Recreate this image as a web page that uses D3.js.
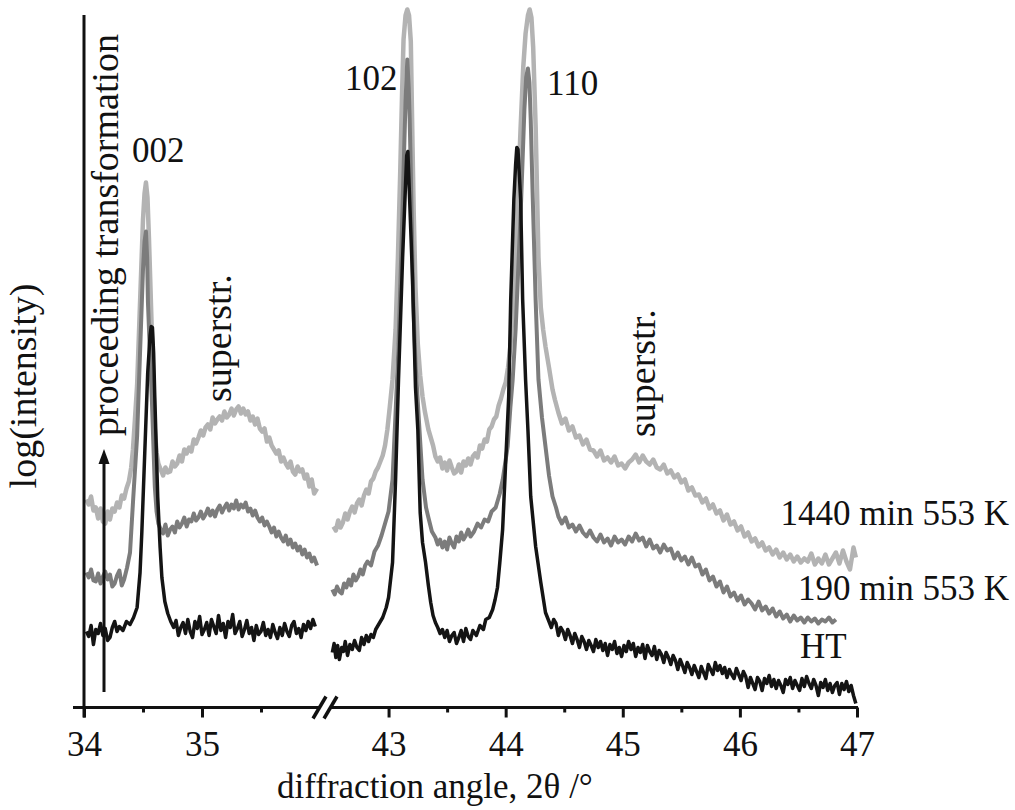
<!DOCTYPE html>
<html>
<head>
<meta charset="utf-8">
<script src="https://cdn.jsdelivr.net/npm/d3@7"></script>
<style>
  body { margin: 0; background: #fff; }
  svg text { font-family: "Liberation Serif", "Times New Roman", serif; fill: #111; }
</style>
</head>
<body>
<svg id="chart" width="1015" height="810"></svg>
<script>
// 2theta (deg) vs log(intensity), arbitrary units
const seriesNames = ['1440 min 553 K', '190 min 553 K', 'HT']
const seriesColors = ['#b3b3b3', '#7c7c7c', '#141414']

const leftTicks = [34, 35]
const leftMinor = [34.5, 35.5]
const rightTicks = [43, 44, 45, 46, 47]
const rightMinor = [43.5, 44.5, 45.5, 46.5]

const peakLabels = ['002', '102', '110']

// ---- 1440 min 553 K ----
const long_left = [[34.02,208],[34.04,203],[34.06,211],[34.08,197],[34.10,200],[34.12,189],[34.14,199],[34.16,186],[34.18,184],[34.20,196],[34.22,188],[34.24,199],[34.26,196],[34.28,205],[34.30,200],[34.32,212],[34.34,209],[34.36,219],[34.38,226],[34.40,240],[34.415,258],[34.43,285],[34.45,322],[34.475,405],[34.50,488],[34.513,514],[34.525,525],[34.538,510],[34.55,471],[34.576,371],[34.60,278],[34.615,255],[34.63,244],[34.65,238],[34.67,232],[34.69,240],[34.71,235],[34.73,236],[34.75,246],[34.77,241],[34.79,244],[34.81,252],[34.83,246],[34.85,258],[34.87,254],[34.89,260],[34.91,256],[34.93,268],[34.95,264],[34.97,270],[34.99,277],[35.01,272],[35.03,280],[35.05,283],[35.07,278],[35.09,290],[35.11,284],[35.13,288],[35.15,291],[35.17,287],[35.19,296],[35.21,290],[35.23,293],[35.25,299],[35.27,292],[35.29,298],[35.31,301],[35.33,294],[35.35,299],[35.37,293],[35.39,296],[35.41,287],[35.43,291],[35.45,283],[35.47,289],[35.49,279],[35.51,276],[35.53,279],[35.55,266],[35.57,270],[35.59,262],[35.61,258],[35.63,254],[35.65,257],[35.67,246],[35.69,250],[35.71,244],[35.73,240],[35.75,246],[35.77,236],[35.79,233],[35.81,241],[35.83,236],[35.85,238],[35.87,229],[35.89,233],[35.91,221],[35.93,228],[35.95,214],[35.975,219]]

const long_right = [[42.53,181],[42.55,177],[42.57,187],[42.59,180],[42.61,185],[42.63,194],[42.65,188],[42.67,196],[42.69,201],[42.71,195],[42.73,204],[42.75,208],[42.77,202],[42.79,212],[42.81,218],[42.83,214],[42.85,226],[42.87,229],[42.89,236],[42.91,240],[42.93,246],[42.95,252],[42.97,262],[42.99,278],[43.01,300],[43.034,328],[43.06,378],[43.08,450],[43.10,537],[43.115,612],[43.128,668],[43.145,692],[43.16,698],[43.175,692],[43.19,666],[43.205,560],[43.215,494],[43.23,420],[43.25,363],[43.27,332],[43.29,311],[43.31,296],[43.34,278],[43.36,270],[43.38,262],[43.40,251],[43.42,246],[43.44,250],[43.46,239],[43.48,245],[43.50,237],[43.52,247],[43.54,240],[43.56,234],[43.58,236],[43.60,243],[43.62,235],[43.64,246],[43.66,242],[43.68,249],[43.70,243],[43.72,251],[43.74,254],[43.76,250],[43.78,262],[43.80,259],[43.82,268],[43.84,266],[43.86,278],[43.88,281],[43.90,288],[43.92,291],[43.94,302],[43.96,309],[43.98,318],[44.00,325],[44.02,340],[44.04,361],[44.06,395],[44.08,440],[44.10,500],[44.128,581],[44.15,640],[44.17,674],[44.19,692],[44.205,698],[44.22,690],[44.235,660],[44.256,581],[44.28,450],[44.30,400],[44.32,378],[44.34,361],[44.37,340],[44.40,318],[44.42,308],[44.45,295],[44.48,284],[44.51,289],[44.54,277],[44.57,281],[44.60,270],[44.63,272],[44.66,263],[44.69,268],[44.72,258],[44.75,257],[44.78,251],[44.81,257],[44.84,247],[44.87,250],[44.90,245],[44.93,251],[44.96,242],[44.99,244],[45.02,239],[45.05,245],[45.08,248],[45.11,253],[45.14,245],[45.17,252],[45.20,246],[45.23,243],[45.26,248],[45.29,240],[45.32,238],[45.35,243],[45.38,234],[45.41,237],[45.44,230],[45.47,233],[45.50,225],[45.53,228],[45.56,217],[45.59,220],[45.62,212],[45.65,213],[45.68,205],[45.71,209],[45.74,199],[45.77,203],[45.80,194],[45.83,197],[45.86,187],[45.89,193],[45.92,183],[45.95,186],[45.98,177],[46.01,181],[46.04,171],[46.07,175],[46.10,166],[46.13,169],[46.16,161],[46.19,165],[46.22,157],[46.25,160],[46.28,153],[46.31,158],[46.34,150],[46.37,155],[46.40,148],[46.43,153],[46.46,146],[46.49,151],[46.52,145],[46.55,149],[46.58,146],[46.61,154],[46.64,143],[46.67,149],[46.70,144],[46.73,153],[46.76,143],[46.79,149],[46.82,155],[46.85,144],[46.88,157],[46.91,146],[46.94,138],[46.97,160],[46.99,150]]

// ---- 190 min 553 K ----
const mid_left = [[34.02,135],[34.04,130],[34.06,138],[34.08,127],[34.10,126],[34.12,134],[34.14,124],[34.16,131],[34.18,136],[34.20,128],[34.22,133],[34.24,121],[34.26,124],[34.28,132],[34.30,137],[34.32,122],[34.34,128],[34.365,140],[34.39,155],[34.415,205],[34.45,271],[34.475,355],[34.50,438],[34.513,466],[34.525,476],[34.535,450],[34.542,405],[34.56,350],[34.576,305],[34.60,221],[34.615,196],[34.63,184],[34.65,178],[34.67,174],[34.69,183],[34.71,172],[34.73,178],[34.75,181],[34.77,175],[34.79,186],[34.81,180],[34.83,184],[34.85,190],[34.87,181],[34.89,188],[34.91,186],[34.93,194],[34.95,187],[34.97,190],[34.99,196],[35.01,189],[35.03,193],[35.05,199],[35.07,192],[35.09,197],[35.11,191],[35.13,198],[35.15,202],[35.17,195],[35.19,200],[35.21,204],[35.23,197],[35.25,203],[35.27,199],[35.29,207],[35.31,198],[35.33,203],[35.35,200],[35.37,205],[35.39,196],[35.41,199],[35.43,192],[35.45,197],[35.47,190],[35.49,186],[35.51,190],[35.53,182],[35.55,186],[35.57,181],[35.59,175],[35.61,180],[35.63,171],[35.65,176],[35.67,170],[35.69,166],[35.71,172],[35.73,163],[35.75,168],[35.77,160],[35.79,164],[35.81,157],[35.83,161],[35.85,153],[35.87,158],[35.89,150],[35.91,154],[35.93,146],[35.95,150],[35.975,142]]

const mid_right = [[42.52,118],[42.54,113],[42.56,121],[42.58,116],[42.60,114],[42.62,124],[42.64,120],[42.66,128],[42.68,122],[42.70,133],[42.72,127],[42.74,131],[42.76,138],[42.78,133],[42.80,142],[42.82,146],[42.85,142],[42.88,156],[42.91,162],[42.94,172],[42.97,184],[43.00,196],[43.034,228],[43.06,295],[43.085,361],[43.11,460],[43.128,537],[43.145,606],[43.16,648],[43.172,620],[43.18,590],[43.19,537],[43.21,407],[43.23,345],[43.255,295],[43.29,228],[43.32,200],[43.34,190],[43.37,176],[43.40,170],[43.42,163],[43.44,168],[43.46,160],[43.48,166],[43.50,158],[43.52,170],[43.54,164],[43.56,160],[43.58,171],[43.60,166],[43.62,175],[43.64,168],[43.66,172],[43.68,178],[43.70,171],[43.73,176],[43.76,184],[43.79,180],[43.82,188],[43.85,186],[43.88,196],[43.915,200],[43.95,214],[43.975,228],[44.017,261],[44.04,300],[44.06,328],[44.085,378],[44.128,494],[44.16,598],[44.175,630],[44.19,639],[44.203,625],[44.214,588],[44.23,515],[44.256,407],[44.28,328],[44.31,290],[44.34,261],[44.37,232],[44.40,211],[44.43,200],[44.45,191],[44.48,184],[44.51,190],[44.54,180],[44.57,183],[44.60,176],[44.63,182],[44.66,175],[44.69,171],[44.72,177],[44.75,170],[44.78,166],[44.81,173],[44.84,165],[44.87,169],[44.90,162],[44.93,171],[44.96,165],[44.99,168],[45.02,163],[45.05,171],[45.08,166],[45.11,174],[45.14,167],[45.17,170],[45.20,161],[45.23,168],[45.26,159],[45.29,162],[45.32,155],[45.35,163],[45.38,157],[45.41,159],[45.44,149],[45.47,155],[45.50,147],[45.53,151],[45.56,143],[45.59,150],[45.62,141],[45.65,143],[45.68,133],[45.71,138],[45.74,127],[45.77,131],[45.80,121],[45.83,126],[45.86,115],[45.89,121],[45.92,111],[45.95,115],[45.98,107],[46.01,112],[46.04,103],[46.07,108],[46.10,104],[46.13,98],[46.16,106],[46.19,97],[46.22,101],[46.25,94],[46.28,99],[46.31,91],[46.34,96],[46.37,89],[46.40,93],[46.43,86],[46.46,92],[46.49,87],[46.52,90],[46.55,85],[46.58,90],[46.61,86],[46.64,89],[46.67,84],[46.70,88],[46.73,86],[46.76,90],[46.79,85],[46.82,88]]

// ---- HT ----
const ht_left = [[34.02,76],[34.04,71],[34.06,82],[34.08,63],[34.10,78],[34.12,74],[34.14,84],[34.16,72],[34.18,79],[34.20,67],[34.22,70],[34.24,80],[34.26,86],[34.28,76],[34.30,81],[34.33,77],[34.36,86],[34.39,83],[34.42,90],[34.45,100],[34.475,135],[34.49,175],[34.515,255],[34.54,335],[34.56,372],[34.57,381],[34.58,380],[34.59,355],[34.60,310],[34.625,210],[34.645,160],[34.66,130],[34.685,106],[34.71,94],[34.735,86],[34.76,80],[34.78,87],[34.80,72],[34.82,80],[34.84,85],[34.86,74],[34.88,88],[34.90,76],[34.92,70],[34.94,86],[34.96,79],[34.98,91],[35.00,73],[35.02,78],[35.04,85],[35.06,72],[35.08,88],[35.10,81],[35.12,74],[35.14,92],[35.16,77],[35.18,84],[35.20,70],[35.22,86],[35.24,80],[35.26,93],[35.28,74],[35.30,79],[35.32,86],[35.34,71],[35.36,78],[35.38,87],[35.40,74],[35.42,80],[35.44,67],[35.46,82],[35.48,73],[35.50,76],[35.52,85],[35.54,72],[35.56,78],[35.58,70],[35.60,83],[35.62,75],[35.64,69],[35.66,80],[35.68,72],[35.70,84],[35.72,76],[35.74,71],[35.76,82],[35.78,86],[35.80,74],[35.82,79],[35.84,70],[35.86,83],[35.88,77],[35.90,86],[35.92,79],[35.94,88],[35.96,81]]

const ht_right = [[42.52,55],[42.535,64],[42.55,50],[42.565,62],[42.58,48],[42.60,60],[42.615,56],[42.63,66],[42.65,52],[42.67,63],[42.69,58],[42.71,67],[42.73,60],[42.75,57],[42.77,70],[42.79,63],[42.81,72],[42.83,66],[42.85,73],[42.87,70],[42.89,78],[42.92,84],[42.95,90],[42.98,100],[43.00,110],[43.034,145],[43.06,228],[43.085,328],[43.12,450],[43.145,523],[43.155,552],[43.165,556],[43.18,508],[43.205,428],[43.23,320],[43.25,278],[43.27,195],[43.29,165],[43.316,145],[43.34,122],[43.36,105],[43.38,92],[43.40,85],[43.42,80],[43.44,74],[43.46,78],[43.48,70],[43.50,77],[43.52,66],[43.54,72],[43.56,75],[43.58,64],[43.60,70],[43.62,77],[43.64,66],[43.66,79],[43.68,71],[43.70,68],[43.72,77],[43.75,72],[43.78,82],[43.81,78],[43.83,88],[43.86,90],[43.889,98],[43.91,108],[43.93,120],[43.95,145],[43.974,178],[44.00,245],[44.026,311],[44.043,407],[44.07,508],[44.085,543],[44.095,560],[44.105,558],[44.128,508],[44.145,408],[44.17,328],[44.19,278],[44.214,211],[44.256,161],[44.30,125],[44.34,95],[44.37,86],[44.39,80],[44.41,88],[44.43,84],[44.45,72],[44.47,80],[44.49,76],[44.51,68],[44.53,78],[44.55,72],[44.57,64],[44.59,74],[44.61,68],[44.63,60],[44.65,71],[44.67,66],[44.69,58],[44.71,67],[44.73,62],[44.75,56],[44.77,68],[44.79,60],[44.81,66],[44.83,57],[44.85,64],[44.87,52],[44.89,63],[44.91,58],[44.93,66],[44.95,54],[44.97,60],[44.99,51],[45.01,62],[45.03,56],[45.05,66],[45.07,58],[45.09,64],[45.11,51],[45.13,60],[45.15,55],[45.17,63],[45.19,49],[45.21,62],[45.23,56],[45.25,52],[45.27,61],[45.29,48],[45.31,57],[45.33,53],[45.35,45],[45.37,55],[45.39,50],[45.41,43],[45.43,52],[45.45,47],[45.47,38],[45.49,48],[45.51,42],[45.53,35],[45.55,45],[45.57,40],[45.59,33],[45.61,42],[45.63,36],[45.65,30],[45.67,41],[45.69,35],[45.71,29],[45.73,43],[45.75,38],[45.77,33],[45.79,45],[45.81,37],[45.83,42],[45.85,34],[45.87,40],[45.89,30],[45.91,38],[45.93,33],[45.95,29],[45.97,39],[45.99,33],[46.01,27],[46.03,36],[46.05,31],[46.07,20],[46.09,30],[46.11,24],[46.13,18],[46.15,30],[46.17,26],[46.19,17],[46.21,29],[46.23,24],[46.25,32],[46.27,21],[46.29,28],[46.31,19],[46.33,27],[46.35,22],[46.37,15],[46.39,28],[46.41,23],[46.43,30],[46.45,19],[46.47,27],[46.49,22],[46.51,17],[46.53,29],[46.55,21],[46.57,31],[46.59,24],[46.61,19],[46.63,28],[46.65,22],[46.67,12],[46.69,25],[46.71,20],[46.73,28],[46.75,17],[46.77,24],[46.79,15],[46.81,22],[46.83,25],[46.85,13],[46.87,24],[46.89,18],[46.91,26],[46.93,16],[46.95,22],[46.97,12],[46.99,4]]

const leftData = [long_left, mid_left, ht_left]
const rightData = [long_right, mid_right, ht_right]

const svg = d3.select('#chart')

const axisY = 707.5
const xLeft = d3.scaleLinear().domain([34, 36]).range([84, 320])
const xRight = d3.scaleLinear().domain([42.5, 47]).range([330, 857])
const y = d3.scaleLinear().domain([0, 700]).range([axisY, 7.5])

// curves, lightest first so the black trace sits on top
const lineL = d3.line().x(d => xLeft(d[0])).y(d => y(d[1]))
const lineR = d3.line().x(d => xRight(d[0])).y(d => y(d[1]))
const widths = [4.5, 4, 3.5]

seriesNames.forEach((name, i) => {
  svg.append('path')
    .attr('d', lineL(leftData[i]))
    .attr('fill', 'none')
    .attr('stroke', seriesColors[i])
    .attr('stroke-width', widths[i])
    .attr('stroke-linejoin', 'round')
  svg.append('path')
    .attr('d', lineR(rightData[i]))
    .attr('fill', 'none')
    .attr('stroke', seriesColors[i])
    .attr('stroke-width', widths[i])
    .attr('stroke-linejoin', 'round')
})

// x axis, two pieces with a break
function styleAxis(g) {
  g.select('.domain').remove()
  g.selectAll('.tick line').attr('stroke', '#111').attr('stroke-width', 3)
  g.selectAll('.tick text')
    .style('font-family', '"Liberation Serif", serif')
    .style('font-size', '35px')
    .attr('fill', '#111')
}

svg.append('g')
  .attr('transform', `translate(0,${axisY})`)
  .call(d3.axisBottom(xLeft).tickValues(leftTicks).tickSize(10).tickPadding(14).tickFormat(d3.format('d')))
  .call(styleAxis)
svg.append('g')
  .attr('transform', `translate(0,${axisY})`)
  .call(d3.axisBottom(xLeft).tickValues(leftMinor).tickSize(5).tickFormat(''))
  .call(styleAxis)
svg.append('g')
  .attr('transform', `translate(0,${axisY})`)
  .call(d3.axisBottom(xRight).tickValues(rightTicks).tickSize(10).tickPadding(14).tickFormat(d3.format('d')))
  .call(styleAxis)
svg.append('g')
  .attr('transform', `translate(0,${axisY})`)
  .call(d3.axisBottom(xRight).tickValues(rightMinor).tickSize(5).tickFormat(''))
  .call(styleAxis)

svg.append('line')
  .attr('x1', 73).attr('x2', 319).attr('y1', axisY).attr('y2', axisY)
  .attr('stroke', '#111').attr('stroke-width', 3)
svg.append('line')
  .attr('x1', 331).attr('x2', xRight(47) + 1).attr('y1', axisY).attr('y2', axisY)
  .attr('stroke', '#111').attr('stroke-width', 3)
;[319.5, 330.5].forEach(cx => {
  svg.append('line')
    .attr('x1', cx - 6.5).attr('y1', axisY + 11)
    .attr('x2', cx + 6.5).attr('y2', axisY - 11)
    .attr('stroke', '#111').attr('stroke-width', 3.5)
})

// y axis
svg.append('line')
  .attr('x1', xLeft(34)).attr('x2', xLeft(34))
  .attr('y1', 15).attr('y2', axisY + 10)
  .attr('stroke', '#111').attr('stroke-width', 3)

// axis titles
svg.append('text')
  .attr('x', 277).attr('y', 798)
  .style('font-size', '35px')
  .text('diffraction angle, 2\u03b8 /\u00b0')

svg.append('text')
  .attr('transform', 'translate(36,386) rotate(-90)')
  .attr('text-anchor', 'middle')
  .style('font-size', '38px')
  .text('log(intensity)')

// arrow
svg.append('line')
  .attr('x1', 104).attr('x2', 104).attr('y1', 692).attr('y2', 460)
  .attr('stroke', '#111').attr('stroke-width', 3)
svg.append('path')
  .attr('d', 'M104,449 L98.5,464 L109.5,464 Z')
  .attr('fill', '#111')

svg.append('text')
  .attr('transform', 'translate(118,436) rotate(-90)')
  .style('font-size', '38px')
  .text('proceeding transformation')

// superstructure labels
svg.append('text')
  .attr('transform', 'translate(231,402) rotate(-90)')
  .style('font-size', '38px')
  .text('superstr.')
svg.append('text')
  .attr('transform', 'translate(655,437) rotate(-90)')
  .style('font-size', '38px')
  .text('superstr.')

// peak labels
const peakPos = [[132, 162], [345, 90], [547, 95]]
peakLabels.forEach((t, i) => {
  svg.append('text')
    .attr('x', peakPos[i][0]).attr('y', peakPos[i][1])
    .style('font-size', '35px')
    .text(t)
})

// series labels
svg.append('text').attr('x', 1009).attr('y', 525).attr('text-anchor', 'end')
  .style('font-size', '35px').text(seriesNames[0])
svg.append('text').attr('x', 1009).attr('y', 600).attr('text-anchor', 'end')
  .style('font-size', '35px').text(seriesNames[1])
svg.append('text').attr('x', 800).attr('y', 658)
  .style('font-size', '35px').text(seriesNames[2])
</script>
</body>
</html>
